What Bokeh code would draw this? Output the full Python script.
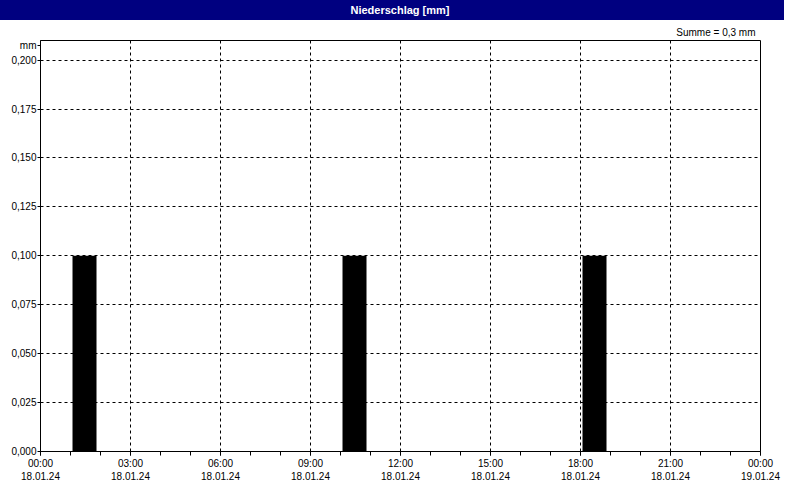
from bokeh.plotting import figure
from bokeh.models import Range1d, FixedTicker, Div, Title
from bokeh.layouts import column
from bokeh.embed import file_html
from bokeh.resources import INLINE
import numpy as np

# ---- data ----
bar_start_hours = [1, 10, 18]          # hour of day (18.01.24)
bar_values = [0.1, 0.1, 0.1]           # mm
x_ticks = [0, 3, 6, 9, 12, 15, 18, 21, 24]
x_time_labels = ["00:00", "03:00", "06:00", "09:00", "12:00", "15:00", "18:00", "21:00", "00:00"]
x_date_labels = ["18.01.24"] * 8 + ["19.01.24"]
x_minor_ticks = list(range(0, 25))
y_ticks = [0.0, 0.025, 0.05, 0.075, 0.1, 0.125, 0.15, 0.175, 0.2]
y_tick_labels = ["0,000", "0,025", "0,050", "0,075", "0,100", "0,125", "0,150", "0,175", "0,200"]
y_max = 0.21
unit_text = "mm"
title_text = "Niederschlag [mm]"
total = sum(bar_values)
sum_text = ("Summe = %.1f mm" % total).replace(".", ",")

FONT = "Liberation Sans"
FS = "10px"
NAVY = "#000080"

p = figure(width=784, height=464, output_backend="svg", toolbar_location=None,
           x_range=Range1d(0, 24), y_range=Range1d(0, y_max),
           min_border_left=40, min_border_right=24, min_border_top=20, min_border_bottom=30,
           background_fill_color="white", border_fill_color="white")
p.outline_line_color = "black"
p.outline_line_width = 1

# bars
p.vbar(x=np.array(bar_start_hours) + 0.467, width=0.8, top=bar_values, bottom=0,
       fill_color="black", line_color=None)

# axes
p.xaxis.ticker = FixedTicker(ticks=x_ticks, minor_ticks=x_minor_ticks)
p.xaxis.major_label_overrides = {t: f"{a}\n{b}" for t, a, b in zip(x_ticks, x_time_labels, x_date_labels)}
p.xaxis.major_tick_out = 4
p.xaxis.major_tick_in = 0
p.xaxis.minor_tick_out = 4
p.xaxis.minor_tick_in = 0
p.xaxis.major_label_standoff = 2
p.xaxis.major_label_text_line_height = 1.2

# unit label "mm" sits just below the top of the value axis
unit_pos = y_max - 0.0025
p.yaxis.ticker = FixedTicker(ticks=y_ticks + [unit_pos], minor_ticks=[])
overrides = dict(zip(y_ticks, y_tick_labels))
overrides[unit_pos] = unit_text
p.yaxis.major_label_overrides = overrides
p.yaxis.major_tick_out = 3
p.yaxis.major_tick_in = 0
p.yaxis.major_label_standoff = 1
for ax in (p.xaxis, p.yaxis):
    ax.axis_line_color = "black"
    ax.major_tick_line_color = "black"
    ax.minor_tick_line_color = "black"
    ax.major_label_text_font = FONT
    ax.major_label_text_font_size = FS
    ax.major_label_text_color = "black"

# grid
for g in (p.xgrid, p.ygrid):
    g.grid_line_color = "black"
    g.grid_line_dash = "3 3"
    g.grid_line_width = 1
    g.grid_line_alpha = 1.0
p.xgrid.ticker = FixedTicker(ticks=x_ticks)
p.ygrid.ticker = FixedTicker(ticks=y_ticks)

# sum annotation
p.add_layout(Title(text=sum_text, align="right", offset=5, standoff=5,
                   text_font=FONT, text_font_size=FS, text_font_style="normal",
                   text_color="black"), "above")

title = Div(text=title_text, width=784, height=20, margin=0,
            styles={"background-color": NAVY, "color": "white", "font-family": FONT,
                    "font-size": "11px", "font-weight": "bold", "text-align": "center",
                    "line-height": "20px", "width": "784px", "height": "20px",
                    "padding-left": "16px", "box-sizing": "border-box"})

layout = column(title, p, spacing=0)
open("out.html", "w").write(file_html(layout, INLINE))
